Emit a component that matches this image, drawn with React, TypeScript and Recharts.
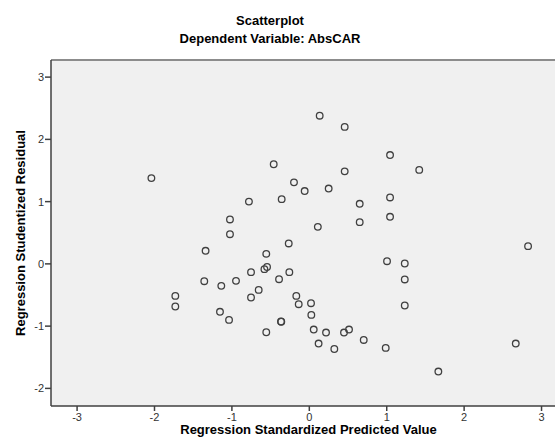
import React from "react";
import { ScatterChart, Scatter, XAxis, YAxis, CartesianGrid, ReferenceLine, Label } from "recharts";

const predicted = [
  0.134, 0.457, 1.043, 1.42, 0.457, -0.46, -2.04, -0.198, 0.25, -0.06,
  -0.357, -0.78, 1.043, 0.651, 1.043, -1.025, 0.651, 0.11, -1.025, -0.266,
  2.826, -1.34, -0.556, -0.546, -0.58, -0.753, -0.258, 1.004, 1.233, -1.357,
  -1.137, -0.947, -0.391, 1.233, -0.654, -0.753, -1.731, -1.731, -0.168, -0.137,
  0.022, 1.233, 0.026, -1.154, -1.037, -0.366, -0.362, 0.057, -0.556, 0.216,
  0.448, 0.513, 0.12, 0.703, 0.323, 0.987, 2.667, 1.667,
];
const residual = [
  2.38, 2.2, 1.748, 1.51, 1.486, 1.6, 1.378, 1.31, 1.21, 1.17,
  1.04, 1.0, 1.067, 0.965, 0.756, 0.714, 0.67, 0.595, 0.477, 0.328,
  0.285, 0.21, 0.161, -0.05, -0.085, -0.133, -0.133, 0.043, 0.006, -0.278,
  -0.353, -0.273, -0.246, -0.25, -0.418, -0.54, -0.514, -0.685, -0.514, -0.648,
  -0.632, -0.669, -0.82, -0.77, -0.9, -0.926, -0.93, -1.055, -1.098, -1.103,
  -1.103, -1.055, -1.28, -1.222, -1.367, -1.35, -1.28, -1.73,
];
const xTicks = [-3, -2, -1, 0, 1, 2, 3];
const yTicks = [-2, -1, 0, 1, 2, 3];
const xDomain = [-3.337, 3.316];
const yDomain = [-2.283, 3.275];

const data = predicted.map((x, i) => ({ x, y: residual[i] }));

const FONT = "'Liberation Sans', Arial, sans-serif";

const Ring = (props: any) => {
  const { cx, cy } = props;
  if (cx == null || cy == null) return null;
  return <circle cx={cx} cy={cy} r={3.3} fill="none" stroke="#404040" strokeWidth={1.3} />;
};

export default function App() {
  return (
    <div style={{ position: "absolute", left: 0, top: 0, width: 555, height: 448, overflow: "hidden", background: "#fff", fontFamily: FONT }}>
      <div style={{ position: "absolute", left: 0, width: 540, top: 13, textAlign: "center", fontWeight: "bold", fontSize: 13, color: "#000", lineHeight: "16px" }}>
        Scatterplot
      </div>
      <div style={{ position: "absolute", left: 0, width: 540, top: 31, textAlign: "center", fontWeight: "bold", fontSize: 13, color: "#000", lineHeight: "16px" }}>
        Dependent Variable: AbsCAR
      </div>
      <ScatterChart width={566} height={448} margin={{ top: 60, right: 0, bottom: 0, left: 0 }}>
        <CartesianGrid horizontal={false} vertical={false} fill="#f0f0f0" />
        <XAxis
          type="number"
          dataKey="x"
          domain={xDomain}
          ticks={xTicks}
          allowDataOverflow
          height={42}
          tickSize={5}
          tickMargin={2}
          axisLine={{ stroke: "#404040", strokeWidth: 1.5 }}
          tickLine={{ stroke: "#404040", strokeWidth: 1.5 }}
          tick={{ fill: "#333", fontSize: 11, fontFamily: FONT }}
        >
          <Label
            value="Regression Standardized Predicted Value"
            position="insideBottom"
            offset={14}
            style={{ fontWeight: "bold", fontSize: 13, fill: "#000", fontFamily: FONT }}
          />
        </XAxis>
        <YAxis
          type="number"
          dataKey="y"
          domain={yDomain}
          ticks={yTicks}
          allowDataOverflow
          width={51}
          tickSize={6}
          tickMargin={1}
          axisLine={{ stroke: "#404040", strokeWidth: 1.5 }}
          tickLine={{ stroke: "#404040", strokeWidth: 1.5 }}
          tick={{ fill: "#333", fontSize: 11, fontFamily: FONT }}
        >
          <Label
            value="Regression Studentized Residual"
            angle={-90}
            position="insideLeft"
            offset={20}
            style={{ fontWeight: "bold", fontSize: 13, fill: "#000", fontFamily: FONT, textAnchor: "middle" }}
          />
        </YAxis>
        <ReferenceLine y={yDomain[1]} stroke="#8c8c8c" strokeWidth={2} />
        <Scatter data={data} shape={Ring} isAnimationActive={false} />
      </ScatterChart>
    </div>
  );
}
